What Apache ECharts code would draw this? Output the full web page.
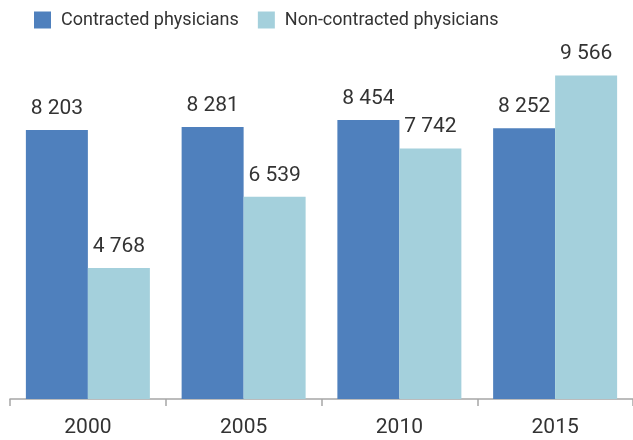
<!DOCTYPE html>
<html lang="en">
<head>
    <meta charset="UTF-8">
    <title>Physicians</title>
    <style>
        html, body { margin: 0; padding: 0; background: #fff; }
    </style>
</head>
<body>
<div id="chart_bar" style="width:633px;height:440px;"></div>
<script src="https://cdn.jsdelivr.net/npm/echarts@6/dist/echarts.min.js"></script>
<script>
    var years = ['2000', '2005', '2010', '2015'];
    var contracted = [8203, 8281, 8454, 8252];
    var nonContracted = [4768, 6539, 7742, 9566];
    var seriesNames = ['Contracted physicians', 'Non-contracted physicians'];

    var FONT = 'Roboto, sans-serif';

    // 8203 -> "8 203"
    function spaced(v) {
        return String(v).replace(/\B(?=(\d{3})+(?!\d))/g, ' ');
    }

    var myChart = echarts.init(document.getElementById('chart_bar'));
    myChart.setOption({
        animation: false,
        textStyle: { fontFamily: FONT },
        legend: {
            left: 29,
            top: 6,
            itemWidth: 17,
            itemHeight: 17,
            itemGap: 19,
            icon: 'rect',
            textStyle: { fontSize: 18, color: '#333', fontFamily: FONT, padding: [0, 0, 0, 5] },
            data: seriesNames
        },
        grid: { left: 10, right: 0, top: 58, bottom: 41 },
        xAxis: {
            type: 'category',
            data: years,
            axisLine: { lineStyle: { color: '#a6a6a6', width: 1.5 } },
            axisTick: { show: true, length: 7, lineStyle: { color: '#a6a6a6', width: 1.5 } },
            axisLabel: { fontSize: 21, color: '#333', margin: 18, fontFamily: FONT }
        },
        yAxis: {
            type: 'value',
            min: 1500,
            max: 10000,
            show: false,
            splitLine: { show: false }
        },
        series: [
            {
                name: seriesNames[0],
                type: 'bar',
                data: contracted,
                barWidth: 62,
                barGap: '0%',
                itemStyle: { color: '#4f80bd' },
                label: {
                    show: true, position: 'top', distance: 11,
                    fontSize: 21, color: '#333', fontFamily: FONT,
                    formatter: function (p) { return spaced(p.value); }
                }
            },
            {
                name: seriesNames[1],
                type: 'bar',
                data: nonContracted,
                barWidth: 62,
                barGap: '0%',
                itemStyle: { color: '#a4d0dc' },
                label: {
                    show: true, position: 'top', distance: 11,
                    fontSize: 21, color: '#333', fontFamily: FONT,
                    formatter: function (p) { return spaced(p.value); }
                }
            }
        ]
    });
</script>
</body>
</html>
